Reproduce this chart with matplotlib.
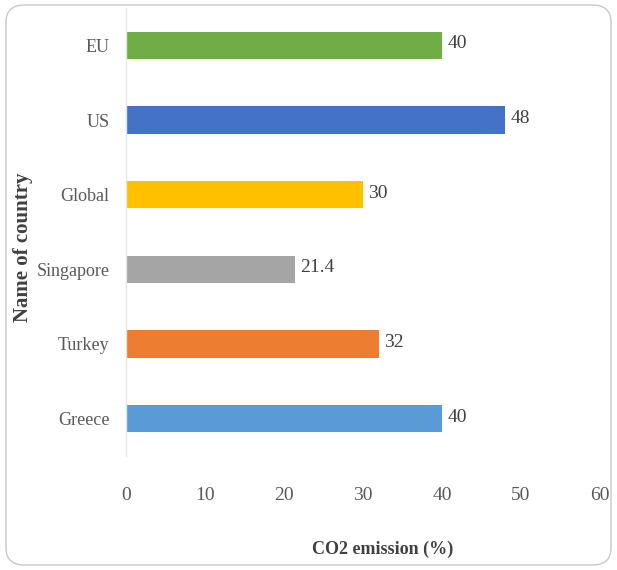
import matplotlib.pyplot as plt
from matplotlib.patches import FancyBboxPatch

countries = ['Greece', 'Turkey', 'Singapore', 'Global', 'US', 'EU']
values = [40, 32, 21.4, 30, 48, 40]
labels = ['40', '32', '21.4', '30', '48', '40']
colors = ['#5b9bd5', '#ed7d31', '#a5a5a5', '#ffc000', '#4472c4', '#70ad47']
xticks = [0, 10, 20, 30, 40, 50, 60]

plt.rcParams['font.family'] = ['Liberation Serif', 'DejaVu Serif']

fig = plt.figure(figsize=(6.17, 5.70), dpi=100)
ax = fig.add_axes([126/617, 1 - 456/570, (600 - 126)/617, (456 - 8)/570])

# rounded frame around the whole chart
frame = FancyBboxPatch((6/617, 5/570), 605/617, 560/570,
                       boxstyle='round,pad=0,rounding_size=0.03',
                       transform=fig.transFigure, fill=False,
                       edgecolor='#c8c8c8', linewidth=1.0)
fig.patches.append(frame)

y = range(len(countries))
ax.barh(y, values, height=0.37, color=colors)
for yi, v, lab in zip(y, values, labels):
    ax.text(v + 0.7, yi + 0.02, lab, va='center', ha='left', fontsize=14, color='#404040')

ax.set_xlim(0, 60)
ax.set_ylim(-0.5, 5.5)
ax.set_yticks(list(y))
ax.set_yticklabels(countries, fontsize=13, color='#595959')
ax.set_xticks(xticks)
ax.set_xticklabels([str(t) for t in xticks], fontsize=14, color='#595959')
ax.tick_params(axis='both', length=0)
ax.tick_params(axis='x', pad=22)
ax.tick_params(axis='y', pad=12)

for s in ['top', 'right', 'bottom']:
    ax.spines[s].set_visible(False)
ax.spines['left'].set_color('#e6e6e6')
ax.spines['left'].set_linewidth(1.0)

fig.text(383/617, 1 - 549/570, 'CO2 emission (%)', ha='center', va='center',
         fontsize=13, fontweight='bold', color='#404040')
fig.text(23/617, 1 - 247/570, 'Name of country', ha='center', va='center',
         rotation=90, fontsize=15, fontweight='bold', color='#404040')

fig.savefig('out.png', dpi=100)
